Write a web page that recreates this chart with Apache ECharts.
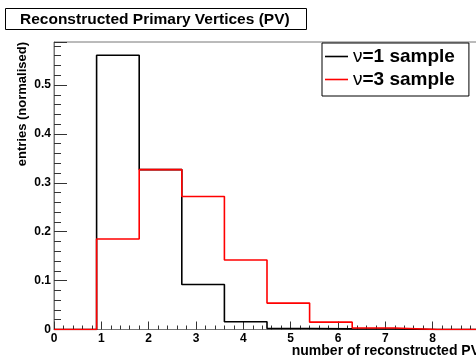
<!DOCTYPE html>
<html>
<head>
<meta charset="utf-8">
<script src="https://cdn.jsdelivr.net/npm/echarts@6/dist/echarts.min.js"></script>
<style>
  html, body { margin: 0; padding: 0; background: #fff; }
  #chart { width: 476px; height: 359px; }
</style>
</head>
<body>
<div id="chart"></div>
<script>
// Histogram binning: 10 bins of width 0.9 over [0, 9]
const binEdges = [0, 0.9, 1.8, 2.7, 3.6, 4.5, 5.4, 6.3, 7.2, 8.1, 9.0];
// Normalised bin contents
const nu1Values = [0, 0.561, 0.327, 0.092, 0.016, 0.002, 0.0012, 0.001, 0, 0];
const nu3Values = [0, 0.185, 0.327, 0.272, 0.142, 0.054, 0.015, 0.003, 0, 0];
const seriesNames = ['ν=1 sample', 'ν=3 sample'];
const yTickLabels = ['0', '0.1', '0.2', '0.3', '0.4', '0.5'];
const xTickLabels = ['0', '1', '2', '3', '4', '5', '6', '7', '8', '9'];

const FONT = '"Liberation Sans", Arial, Helvetica, sans-serif';
const AXIS_GREY = '#777';

// step line points: each bin starts at its left edge; final point closes the last bin
function stepPoints(values) {
  const pts = values.map((v, i) => [binEdges[i], v]);
  pts.push([binEdges[binEdges.length - 1], values[values.length - 1]]);
  return pts;
}

const chart = echarts.init(document.getElementById('chart'), null, { renderer: 'canvas' });

chart.setOption({
  animation: false,
  backgroundColor: '#fff',
  title: {
    text: 'Reconstructed Primary Vertices (PV)',
    left: 5,
    top: 9,
    padding: [3, 17, 2, 15],
    borderColor: '#000',
    borderWidth: 1,
    backgroundColor: '#fff',
    textStyle: { fontFamily: FONT, fontWeight: 'bold', fontSize: 15.5, color: '#000', lineHeight: 15 }
  },
  legend: {
    orient: 'vertical',
    left: 322,
    top: 43,
    padding: [3, 14, 6, 3],
    itemGap: 2,
    itemWidth: 23,
    itemHeight: 1.6,
    icon: 'rect',
    borderColor: '#000',
    borderWidth: 1,
    backgroundColor: '#fff',
    data: seriesNames,
    formatter: function (name) { return '{g|' + name.charAt(0) + '}' + name.slice(1); },
    textStyle: {
      fontFamily: FONT, fontWeight: 'bold', fontSize: 19, color: '#000', lineHeight: 21,
      rich: { g: { fontFamily: FONT, fontWeight: 'normal', fontSize: 19, color: '#000' } }
    }
  },
  grid: {
    left: 54, top: 42, width: 426, bottom: 29.5,
    outerBoundsMode: 'none', containLabel: false,
    show: true, borderColor: AXIS_GREY, borderWidth: 1, backgroundColor: '#fff'
  },
  xAxis: {
    type: 'value', min: 0, max: 9, interval: 1,
    axisLine: { show: true, onZero: false, lineStyle: { color: AXIS_GREY, width: 1 } },
    axisTick: { show: true, inside: true, length: 8, lineStyle: { color: '#333' } },
    minorTick: { show: true, splitNumber: 5, length: 4, lineStyle: { color: '#333' } },
    splitLine: { show: false },
    axisLabel: {
      margin: 3, color: '#000', fontFamily: FONT, fontWeight: 'bold', fontSize: 12,
      showMaxLabel: true,
      formatter: function (v) { return xTickLabels[Math.round(v)]; }
    }
  },
  yAxis: {
    type: 'value', min: 0, max: 0.588, interval: 0.1,
    axisLine: { show: true, lineStyle: { color: AXIS_GREY, width: 1 } },
    axisTick: { show: true, inside: true, length: 13, lineStyle: { color: '#333' } },
    minorTick: { show: true, splitNumber: 5, length: 7, lineStyle: { color: '#333' } },
    splitLine: { show: false },
    axisLabel: {
      margin: 3, color: '#000', fontFamily: FONT, fontWeight: 'bold', fontSize: 12,
      formatter: function (v) { return yTickLabels[Math.round(v * 10)]; }
    }
  },
  graphic: [
    {
      type: 'text', x: 22, y: 42, rotation: Math.PI / 2,
      style: {
        text: 'entries (normalised)', fill: '#000',
        font: 'bold 13px ' + FONT, textAlign: 'right', textVerticalAlign: 'middle'
      }
    },
    {
      type: 'text', x: 480, y: 351,
      style: {
        text: 'number of reconstructed PV', fill: '#000',
        font: 'bold 14px ' + FONT, textAlign: 'right', textVerticalAlign: 'middle'
      }
    }
  ],
  series: [
    {
      name: seriesNames[0], type: 'line', step: 'end', symbol: 'none',
      data: stepPoints(nu1Values),
      lineStyle: { color: '#000', width: 1.6 }, itemStyle: { color: '#000' }
    },
    {
      name: seriesNames[1], type: 'line', step: 'end', symbol: 'none',
      data: stepPoints(nu3Values),
      lineStyle: { color: '#ff0000', width: 1.6 }, itemStyle: { color: '#ff0000' }
    }
  ]
});
</script>
</body>
</html>
